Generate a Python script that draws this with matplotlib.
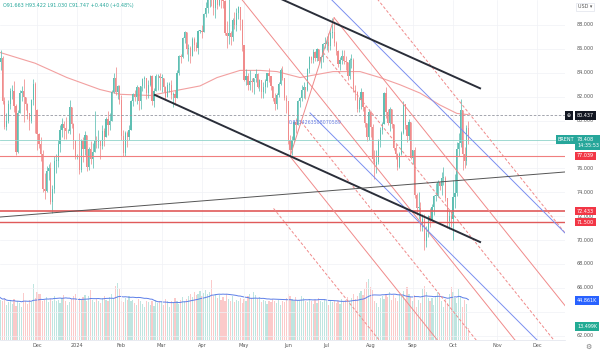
import numpy as np
import pandas as pd
import matplotlib
matplotlib.use("Agg")
import matplotlib.pyplot as plt
from matplotlib.transforms import blended_transform_factory

# daily candles, business days from 2023-11-03 to 2024-10-11
first_open = 86.9
closes = [
    84.9,
    85.2, 81.6, 79.5, 80.0, 81.4,  82.5, 82.5, 81.2, 77.4, 80.6,
    82.3, 82.5, 82.0, 81.4, 80.6,  80.0, 81.7, 83.1, 80.9, 78.9,
    78.0, 77.2, 74.3, 74.1, 75.8,  76.0, 73.2, 74.3, 76.6, 76.6,
    78.0, 79.2, 79.7, 79.4, 79.1,  79.1, 81.1, 79.7, 78.4, 77.0,
    77.0, 75.9, 78.3, 77.6, 78.8,  76.1, 77.6, 76.8, 77.4, 78.3,
    78.2, 78.3, 77.9, 79.1, 78.6,  80.1, 79.6, 80.0, 82.4, 83.6,
    82.4, 82.9, 81.7, 78.7, 77.3,  79.0, 78.6, 79.2, 81.6, 82.2,
    82.0, 82.8, 81.6, 82.9, 83.5,  83.6, 82.3, 83.0, 83.7, 81.6,
    82.5, 83.7, 83.7, 83.6, 83.6,  82.8, 82.0, 83.0, 83.0, 82.1,
    82.2, 81.9, 84.0, 85.4, 85.3,  86.9, 87.4, 86.0, 86.1, 85.4,
    86.8, 86.3, 86.1, 87.5, 87.5,  87.4, 88.9, 89.4, 90.7, 91.2,
    90.4, 89.4, 90.5, 89.7, 90.5,  90.1, 90.0, 87.3, 87.1, 87.3,
    87.0, 88.4, 88.0, 89.0, 89.5,  88.4, 86.3, 83.4, 83.7, 83.0,
    83.3, 83.2, 83.6, 83.9, 82.8,  83.4, 82.4, 82.8, 83.3, 84.0,
    83.7, 82.9, 81.9, 81.4, 82.1,  83.1, 84.2, 83.6, 81.9, 81.6,
    78.4, 77.5, 78.4, 79.9, 79.6,  81.6, 81.9, 82.6, 82.8, 82.6,
    84.3, 85.3, 85.1, 85.7, 85.2,  86.0, 85.0, 85.3, 86.4, 86.4,
    86.6, 86.2, 87.3, 87.4, 86.5,  85.8, 84.7, 85.1, 85.4, 85.0,
    84.9, 83.7, 85.1, 85.1, 82.6,  82.4, 81.0, 81.7, 82.4, 81.1,
    79.8, 78.6, 80.7, 79.5, 76.8,  76.3, 76.5, 78.3, 79.2, 79.7,
    82.3, 80.7, 79.8, 81.0, 79.7,  77.7, 77.2, 76.1, 77.2, 79.0,
    81.4, 79.6, 78.7, 79.9, 76.9,  77.5, 73.8, 72.7, 72.7, 71.1,
    71.8, 69.9, 70.6, 72.0, 71.6,  72.8, 73.7, 73.7, 74.9, 74.5,
    75.2, 75.2, 73.5, 71.6, 72.0,  71.8, 73.6, 73.9, 77.6, 78.1,
    80.9, 77.2, 76.6, 79.4, 78.4,
]
highs = [
    87.3,
    85.9, 85.4, 82.0, 80.6, 81.7,  82.7, 83.0, 83.3, 81.4, 80.9,
    82.6, 82.9, 83.5, 82.0, 81.5,  80.6, 81.8, 83.5, 83.2, 81.0,
    79.0, 78.6, 77.5, 75.6, 76.2,  76.4, 76.5, 74.6, 77.0, 77.2,
    78.4, 79.6, 80.2, 80.0, 80.3,  79.3, 81.7, 81.0, 79.8, 78.2,
    77.2, 79.0, 78.5, 78.6, 79.1,  78.3, 77.8, 78.3, 78.1, 80.8,
    78.7, 79.2, 78.4, 79.6, 79.4,  80.3, 80.8, 80.6, 82.6, 84.0,
    84.5, 83.0, 83.0, 82.1, 79.2,  79.1, 79.1, 79.6, 81.7, 82.3,
    82.6, 83.0, 82.7, 82.9, 83.6,  83.7, 83.6, 83.4, 83.8, 83.8,
    82.7, 83.9, 83.9, 84.0, 83.9,  83.6, 82.9, 83.2, 83.2, 83.4,
    82.4, 82.6, 84.2, 85.5, 85.6,  87.0, 87.5, 87.4, 86.4, 86.2,
    87.0, 87.0, 86.6, 87.6, 87.6,  88.0, 89.0, 89.9, 91.0, 91.2,
    91.0, 90.6, 91.0, 90.5, 92.2,  91.0, 90.6, 90.1, 88.3, 90.8,
    87.5, 88.6, 89.1, 89.4, 89.6,  89.3, 88.5, 86.3, 84.3, 84.0,
    84.2, 83.6, 83.6, 84.3, 84.0,  83.5, 83.3, 83.2, 83.5, 84.0,
    84.4, 83.7, 82.9, 82.3, 82.3,  83.2, 84.4, 84.6, 83.6, 82.1,
    81.5, 78.8, 78.7, 80.0, 80.2,  81.7, 82.0, 83.0, 83.2, 82.8,
    84.4, 85.4, 85.4, 86.0, 85.8,  86.1, 86.0, 85.4, 86.5, 87.0,
    87.1, 87.3, 87.7, 88.6, 88.3,  86.7, 85.9, 85.3, 85.9, 85.9,
    85.4, 84.9, 85.2, 85.6, 85.2,  83.0, 82.5, 82.0, 82.7, 82.4,
    81.2, 79.8, 81.0, 80.8, 79.7,  77.5, 77.5, 78.5, 79.5, 79.9,
    82.4, 82.8, 81.0, 81.1, 81.0,  79.5, 78.0, 77.3, 77.4, 79.1,
    81.6, 81.3, 79.6, 80.1, 79.9,  77.5, 77.8, 73.9, 74.0, 73.2,
    72.2, 72.2, 71.2, 72.1, 72.7,  73.0, 73.8, 74.8, 75.0, 74.9,
    75.7, 76.1, 75.4, 73.5, 72.5,  72.4, 75.0, 75.5, 78.2, 79.0,
    81.8, 80.5, 77.8, 79.6, 80.0,
]
lows = [
    84.4,
    84.2, 81.4, 79.3, 79.2, 79.8,  81.0, 81.8, 80.7, 77.1, 77.3,
    80.6, 81.6, 79.9, 80.9, 80.1,  79.2, 79.8, 81.3, 79.0, 77.5,
    77.7, 76.6, 74.0, 73.4, 74.0,  75.0, 73.0, 72.3, 73.9, 75.6,
    76.1, 77.4, 78.6, 78.5, 78.5,  79.0, 78.9, 79.4, 77.6, 76.8,
    76.8, 75.5, 75.7, 76.5, 77.1,  75.8, 75.9, 76.4, 76.0, 77.5,
    77.7, 77.7, 76.8, 77.6, 77.9,  78.6, 78.8, 79.2, 80.0, 82.3,
    82.1, 81.8, 81.4, 78.4, 77.0,  77.0, 77.8, 78.4, 79.2, 81.2,
    81.6, 81.4, 80.9, 81.0, 82.5,  82.7, 81.8, 81.9, 82.9, 81.3,
    81.1, 82.5, 82.6, 82.6, 82.4,  82.4, 81.7, 82.2, 82.4, 81.8,
    81.1, 81.3, 81.9, 83.8, 84.8,  85.2, 86.5, 85.6, 85.0, 84.8,
    85.4, 85.8, 85.8, 85.6, 87.3,  86.9, 87.4, 88.7, 89.0, 89.5,
    89.6, 88.8, 88.6, 89.3, 89.6,  89.4, 89.4, 87.2, 86.1, 86.4,
    86.3, 86.7, 87.7, 87.5, 88.5,  87.6, 85.8, 83.3, 83.0, 82.6,
    82.6, 82.4, 82.2, 83.2, 82.7,  82.5, 81.9, 81.9, 82.3, 82.8,
    83.2, 82.6, 81.6, 80.9, 81.0,  82.0, 83.0, 83.4, 81.7, 80.6,
    78.0, 77.0, 77.1, 78.2, 79.0,  79.7, 81.1, 81.6, 81.9, 81.8,
    82.5, 84.0, 84.8, 84.8, 85.0,  85.0, 84.8, 84.4, 84.9, 86.1,
    85.9, 85.7, 85.9, 86.9, 86.2,  85.5, 84.5, 84.2, 84.7, 84.7,
    84.2, 83.4, 83.5, 84.4, 82.4,  81.7, 80.7, 80.7, 81.0, 80.8,
    79.5, 78.3, 78.4, 78.6, 76.5,  75.1, 75.6, 76.4, 77.8, 78.9,
    79.7, 80.2, 79.6, 79.1, 79.4,  77.5, 76.8, 75.9, 76.0, 77.1,
    78.9, 79.3, 78.2, 78.4, 76.8,  76.4, 73.5, 72.1, 71.8, 70.8,
    70.8, 69.2, 69.4, 70.3, 71.1,  71.6, 72.1, 73.3, 73.6, 74.2,
    73.8, 74.6, 73.3, 71.0, 70.9,  71.1, 70.0, 72.7, 73.7, 77.0,
    77.8, 75.9, 76.0, 76.3, 78.0,
]
# volume in thousands
volumes = [
    50, 46, 44, 48, 40, 43, 45, 41, 47, 39,  44, 42, 38, 54, 45, 41, 46, 43, 64, 48,
    55, 52, 53, 44, 46, 49, 43, 47, 45, 50,  44, 46, 42, 48, 51, 45, 40, 43, 47, 50,
    52, 44, 48, 46, 49, 51, 45, 50, 57, 46,  43, 47, 45, 42, 48, 50, 46, 44, 49, 52,
    47, 62, 65, 58, 45, 43, 48, 46, 50, 44,  46, 42, 40, 47, 44, 41, 38, 45, 43, 40,
    44, 39, 46, 42, 45, 43, 40, 47, 44, 38,  45, 42, 48, 44, 41, 46, 49, 45, 47, 50,
    52, 49, 55, 51, 53, 56, 50, 54, 57, 52,  55, 69, 50, 53, 48, 51, 46, 49, 44, 52,
    47, 45, 50, 43, 46, 44, 48, 42, 47, 45,  50, 53, 48, 55, 51, 47, 49, 43, 46, 44,
    41, 45, 43, 47, 44, 42, 46, 40, 45, 43,  48, 52, 50, 47, 45, 49, 44, 46, 50, 48,
    45, 43, 47, 44, 41, 46, 42, 48, 45, 43,  47, 44, 40, 46, 43, 45, 42, 44, 41, 47,
    43, 46, 49, 45, 48, 52, 47, 50, 54, 56,  51, 58, 66, 70, 60, 57, 45, 42, 38, 48,
    50, 47, 53, 49, 55, 46, 51, 48, 44, 52,  50, 56, 47, 60, 53, 49, 45, 51, 38, 46,
    42, 58, 62, 55, 48, 44, 48, 40, 50, 55,  52, 44, 38, 47, 42, 52, 60, 55, 48, 42,
    58, 50, 38, 46, 41, 13.5,
]
vol_ma_last = 44.861
# moving average on price (bar index, value)
ma_bar = [0.7, 19, 35.6, 52.8, 63.3, 79, 105, 113.9, 125.9, 136.3, 145.2, 157.2,
          174.4, 188.5, 198.9, 209.3, 219.8, 230.2, 239, 244.8]
ma_price = [85.7, 84.8, 83.6, 82.6, 82.2, 82.1, 82.9, 83.6, 84.2, 84.2, 84.1, 83.6,
            84.1, 84.1, 83.6, 83.0, 82.3, 81.3, 80.6, 80.5]

# drawings: (bar, price) anchors
pitch_p1 = (115, 92.5)
pitch_p2 = (152, 77.0)
pitch_p3 = (175, 88.6)
pitch_levels = [0, 0.5, -0.5, 1, -1, 1.75, -1.75]
black_lines = [((140, 90.7), (251.1, 82.7)), ((81.5, 82.14), (251.1, 69.84))]
grey_line = ((0.68, 71.93), (295.4, 75.70))
blue_lines = [((160, 92.3), (296, 70.5)), ((162.4, 80.64), (296, 59.2))]
red_levels = [77.039, 72.433, 71.500]
alert_level = 80.437
last_price = 78.408

month_starts = pd.date_range("2023-12-01", "2024-12-01", freq="MS")
month_labels = ["Dec", "2024", "Feb", "Mar", "Apr", "May", "Jun", "Jul",
                "Aug", "Sep", "Oct", "Nov", "Dec"]
price_ticks = [62, 66, 68, 70, 72, 74, 76, 80, 82, 84, 86, 88]
grid_ticks = np.arange(62, 90, 2)

# ---- colours ----
GREEN = "#5fbfb3"
RED = "#f08c8c"
VGREEN = "#bfe5e0"
VRED = "#fbcaca"
LINE_RED = "#f08a8a"
BLUE = "#7b8ff0"

fig = plt.figure(figsize=(6, 3.54), dpi=100)
rect = [0, 14 / 354, 565 / 600, 340 / 354]
axv = fig.add_axes(rect, zorder=0)
ax = fig.add_axes(rect, zorder=1)
ax.patch.set_visible(False)

idx = np.arange(len(closes))
c = np.array(closes)
o = np.r_[first_open, c[:-1]]
hi = np.maximum(np.array(highs), np.maximum(o, c))
lo = np.minimum(np.array(lows), np.minimum(o, c))
up = c >= o
col = np.where(up, GREEN, RED)

XL = (0.68, 295.4)
YL = (61.64, 90.09)

# volume pane
axv.bar(idx, volumes, width=0.62, color=np.where(up, VGREEN, VRED), linewidth=0)
vma = pd.Series(volumes).rolling(20, min_periods=1).mean()
axv.plot(idx, vma, color="#5c7ee8", lw=0.7)
axv.set_xlim(*XL)
axv.set_ylim(0, 388)
axv.axis("off")

# grid
days = pd.bdate_range("2023-11-03", "2024-12-31")
ticks = [int(np.searchsorted(days, m)) for m in month_starts]
for t in ticks:
    ax.axvline(t, color="#f0f2f6", lw=0.5, zorder=0)
for p in grid_ticks:
    ax.axhline(p, color="#f0f2f6", lw=0.5, zorder=0)

# price MA
ax.plot(ma_bar, ma_price, color="#f2a0a0", lw=0.8, zorder=2)

# candles
ax.vlines(idx, lo, hi, color=col, lw=0.55, zorder=3)
ax.bar(idx, np.maximum(np.abs(c - o), 0.06), bottom=np.minimum(o, c), width=0.62,
       color=col, linewidth=0, zorder=3)

# horizontal levels
ax.axhline(red_levels[0], color="#f07f7f", lw=0.8, zorder=4)
ax.axhline(red_levels[1], color="#e05a5a", lw=1.2, zorder=4)
ax.axhline(red_levels[2], color="#e05a5a", lw=1.0, zorder=4)
ax.axhline(alert_level, color="#9598a1", lw=0.6, ls=(0, (3, 2)), zorder=4)
ax.axhline(last_price, color="#8fd3ca", lw=0.6, zorder=4)

# pitchfork
p1, p2, p3 = np.array(pitch_p1), np.array(pitch_p2), np.array(pitch_p3)
mid = (p2 + p3) / 2
d = (mid - p1) / (mid - p1)[0]
for k in pitch_levels:
    s = p1 if k == 0 else mid + k * (p2 - mid)
    e = s + d * (XL[1] - s[0])
    ls = "-" if k in (0, 1, -1) else (0, (3, 2))
    ax.plot([s[0], e[0]], [s[1], e[1]], color=LINE_RED, lw=0.7, ls=ls, zorder=4)
ax.plot([p2[0], p3[0]], [p2[1], p3[1]], color=LINE_RED, lw=0.7, zorder=4)

# trend lines
for (a, b) in blue_lines:
    ax.plot([a[0], b[0]], [a[1], b[1]], color=BLUE, lw=0.7, zorder=4)
for (a, b) in black_lines:
    ax.plot([a[0], b[0]], [a[1], b[1]], color="#2a2e39", lw=1.4, zorder=5)
ax.plot([grey_line[0][0], grey_line[1][0]], [grey_line[0][1], grey_line[1][1]],
        color="#555555", lw=0.7, zorder=5)
ax.text(151.4, 79.88, "0.8134263508070589", color="#6a7fe0", fontsize=3.4,
        va="center", ha="left", zorder=6)

ax.set_xlim(*XL)
ax.set_ylim(*YL)
ax.set_xticks(ticks)
ax.set_xticklabels(month_labels)
ax.tick_params(axis="x", length=0, labelsize=3.6, labelcolor="#555555", pad=2.5)
ax.set_yticks([])
for s in ["top", "right", "left"]:
    ax.spines[s].set_visible(False)
ax.spines["bottom"].set_color("#e0e3eb")
ax.spines["bottom"].set_linewidth(0.5)

# legend text
ax.text(3 / 565, 1 - 6 / 340, "O91.663 H93.422 L91.030 C91.747 +0.440 (+0.48%)",
        transform=ax.transAxes, fontsize=3.5, color="#26a69a", va="center")

# price scale
tr = blended_transform_factory(fig.transFigure, ax.transData)
trv = blended_transform_factory(fig.transFigure, axv.transData)
for p in price_ticks:
    ax.text(577 / 600, p, f"{p:.3f}", transform=tr, fontsize=3.5, color="#555555",
            va="center", ha="left", clip_on=False, zorder=7)


def tag(y, text, fc, trans=tr, x=577, tc="white"):
    ax.text(x / 600, y, text, transform=trans, fontsize=3.5, color=tc, va="center",
            ha="left", clip_on=False, zorder=9,
            bbox=dict(boxstyle="square,pad=0.35", fc=fc, ec="none"))


tag(alert_level, "80.437", "#131722")
tag(alert_level, "\u2295", "#131722", x=567)
tag(last_price - 0.25, "78.408\n14:35:53", "#26a69a")
tag(last_price, "BRENT", "#26a69a", x=558)
for p in red_levels:
    tag(p, f"{p:.3f}", "#f23645")
tag(vol_ma_last, "44.861K", "#2962ff", trans=trv)
tag(volumes[-1] + 2, "13.499K", "#22ab94", trans=trv)

fig.text(578 / 600, 1 - 7 / 354, "USD \u25be", fontsize=3.5, color="#555555",
         va="center", ha="left",
         bbox=dict(boxstyle="square,pad=0.4", fc="white", ec="#e0e3eb", lw=0.5))
fig.text(588 / 600, 1 - 347 / 354, "\u2699", fontsize=5, color="#777777",
         va="center", ha="center")

fig.savefig("out.png", dpi=100)
